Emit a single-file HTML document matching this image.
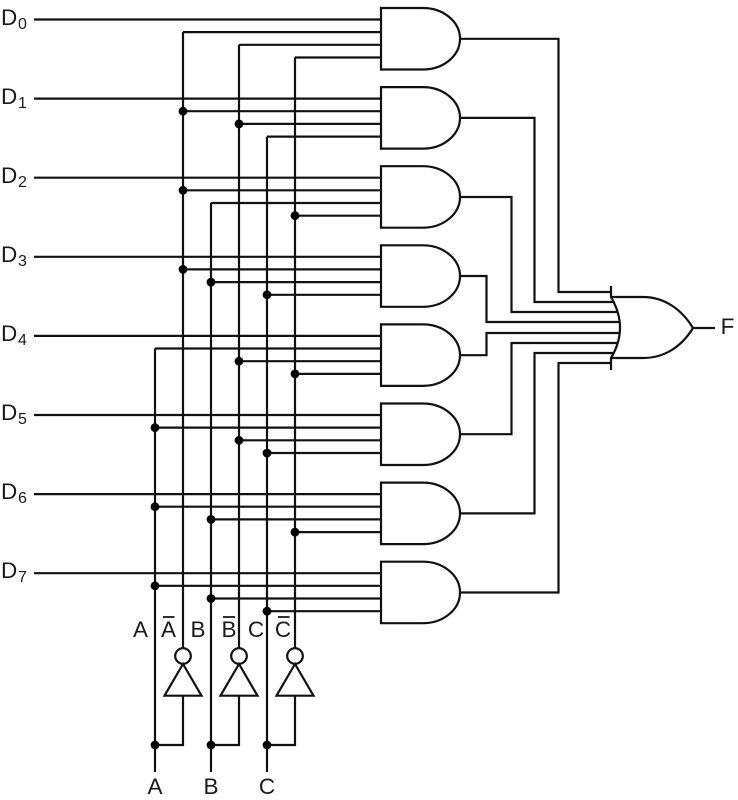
<!DOCTYPE html>
<html>
<head>
<meta charset="utf-8">
<style>
html,body{margin:0;padding:0;background:#fff;width:738px;height:800px;overflow:hidden}
svg{display:block}
text{font-family:"Liberation Sans",sans-serif;fill:#1a1a1a}
</style>
</head>
<body>
<svg width="738" height="800" viewBox="0 0 738 800" xmlns="http://www.w3.org/2000/svg">
<rect width="738" height="800" fill="#fff"/>
<g fill="none" stroke="#111" stroke-width="2.2">
<!-- AND gates -->
<path d="M423,8H381v61.5h42a37,30.75 0 0 0 0,-61.5z"/>
<path d="M423,87.1H381v61.5h42a37,30.75 0 0 0 0,-61.5z"/>
<path d="M423,166.2H381v61.5h42a37,30.75 0 0 0 0,-61.5z"/>
<path d="M423,245.3H381v61.5h42a37,30.75 0 0 0 0,-61.5z"/>
<path d="M423,324.4H381v61.5h42a37,30.75 0 0 0 0,-61.5z"/>
<path d="M423,403.5H381v61.5h42a37,30.75 0 0 0 0,-61.5z"/>
<path d="M423,482.6H381v61.5h42a37,30.75 0 0 0 0,-61.5z"/>
<path d="M423,561.7H381v61.5h42a37,30.75 0 0 0 0,-61.5z"/>
<!-- data inputs -->
<path d="M34,19.5H381M34,98.6H381M34,177.7H381M34,256.8H381M34,335.9H381M34,415H381M34,494.1H381M34,573.2H381"/>
<!-- select inputs -->
<path d="M183,32.1H381M239,44.8H381M295,57.5H381"/>
<path d="M183,111.2H381M239,123.9H381M267,136.6H381"/>
<path d="M183,190.3H381M211,203H381M295,215.7H381"/>
<path d="M183,269.4H381M211,282.1H381M267,294.8H381"/>
<path d="M155,348.5H381M239,361.2H381M295,373.9H381"/>
<path d="M155,427.6H381M239,440.3H381M267,453H381"/>
<path d="M155,506.7H381M211,519.4H381M295,532.1H381"/>
<path d="M155,585.8H381M211,598.5H381M267,611.2H381"/>
<!-- verticals -->
<path d="M155,348.5V772M211,203V772M267,136.6V772"/>
<path d="M183,32.1V648M239,44.8V648M295,57.5V648"/>
<!-- inverters -->
<circle cx="183" cy="656" r="7.8"/>
<circle cx="239" cy="656" r="7.8"/>
<circle cx="295" cy="656" r="7.8"/>
<path d="M183,664L164.5,695.7H201.5z"/>
<path d="M239,664L220.5,695.7H257.5z"/>
<path d="M295,664L276.5,695.7H313.5z"/>
<path d="M183,695.7V745H155M239,695.7V745H211M295,695.7V745H267"/>
<!-- gate outputs to OR -->
<path d="M460,38.8H558.5V292H611"/>
<path d="M460,117.9H534.5V302H614.5"/>
<path d="M460,197H511.5V312H617.5"/>
<path d="M460,276H486.5V322H619.5"/>
<path d="M460,355.2H486.5V333H619.5"/>
<path d="M460,434.2H511.5V343H617.5"/>
<path d="M460,513.4H534.5V353H614.5"/>
<path d="M460,592.5H558.5V363H611"/>
<!-- OR gate -->
<path d="M611,286V297Q629,328 611,358V370"/>
<path d="M611,297H643C665,297 682,310 693,328C682,346 665,358 643,358H611"/>
<path d="M693,328H715"/>
<!-- overbars -->
<path d="M163,617H174.5M223,617H235M278,617H289.5" stroke-width="1.8"/>
</g>
<!-- junction dots -->
<g fill="#000">
<circle cx="183" cy="111.2" r="4.4"/><circle cx="183" cy="190.3" r="4.4"/><circle cx="183" cy="269.4" r="4.4"/>
<circle cx="239" cy="123.9" r="4.4"/><circle cx="239" cy="361.2" r="4.4"/><circle cx="239" cy="440.3" r="4.4"/>
<circle cx="295" cy="215.7" r="4.4"/><circle cx="295" cy="373.9" r="4.4"/><circle cx="295" cy="532.1" r="4.4"/>
<circle cx="211" cy="282.1" r="4.4"/><circle cx="211" cy="519.4" r="4.4"/><circle cx="211" cy="598.5" r="4.4"/>
<circle cx="267" cy="294.8" r="4.4"/><circle cx="267" cy="453" r="4.4"/><circle cx="267" cy="611.2" r="4.4"/>
<circle cx="155" cy="427.6" r="4.4"/><circle cx="155" cy="506.7" r="4.4"/><circle cx="155" cy="585.8" r="4.4"/>
<circle cx="155" cy="745" r="4.4"/><circle cx="211" cy="745" r="4.4"/><circle cx="267" cy="745" r="4.4"/>
</g>
<!-- D labels -->
<g font-size="22.5">
<text x="1" y="25">D</text><text x="1" y="104">D</text><text x="1" y="183">D</text><text x="1" y="262">D</text>
<text x="1" y="341">D</text><text x="1" y="420">D</text><text x="1" y="499">D</text><text x="1" y="578">D</text>
</g>
<g font-size="16">
<text x="18" y="29">0</text><text x="18" y="108">1</text><text x="18" y="187">2</text><text x="18" y="266">3</text>
<text x="18" y="345">4</text><text x="18" y="424">5</text><text x="18" y="503">6</text><text x="18" y="582">7</text>
</g>
<!-- other labels -->
<g font-size="22.5" text-anchor="middle">
<text x="140.5" y="637">A</text>
<text x="168.5" y="637">A</text>
<text x="198" y="637">B</text>
<text x="229" y="637">B</text>
<text x="256" y="637">C</text>
<text x="283" y="637">C</text>
<text x="155" y="794">A</text>
<text x="211" y="794">B</text>
<text x="267" y="794">C</text>
<text x="727.5" y="334">F</text>
</g>
</svg>
</body>
</html>
